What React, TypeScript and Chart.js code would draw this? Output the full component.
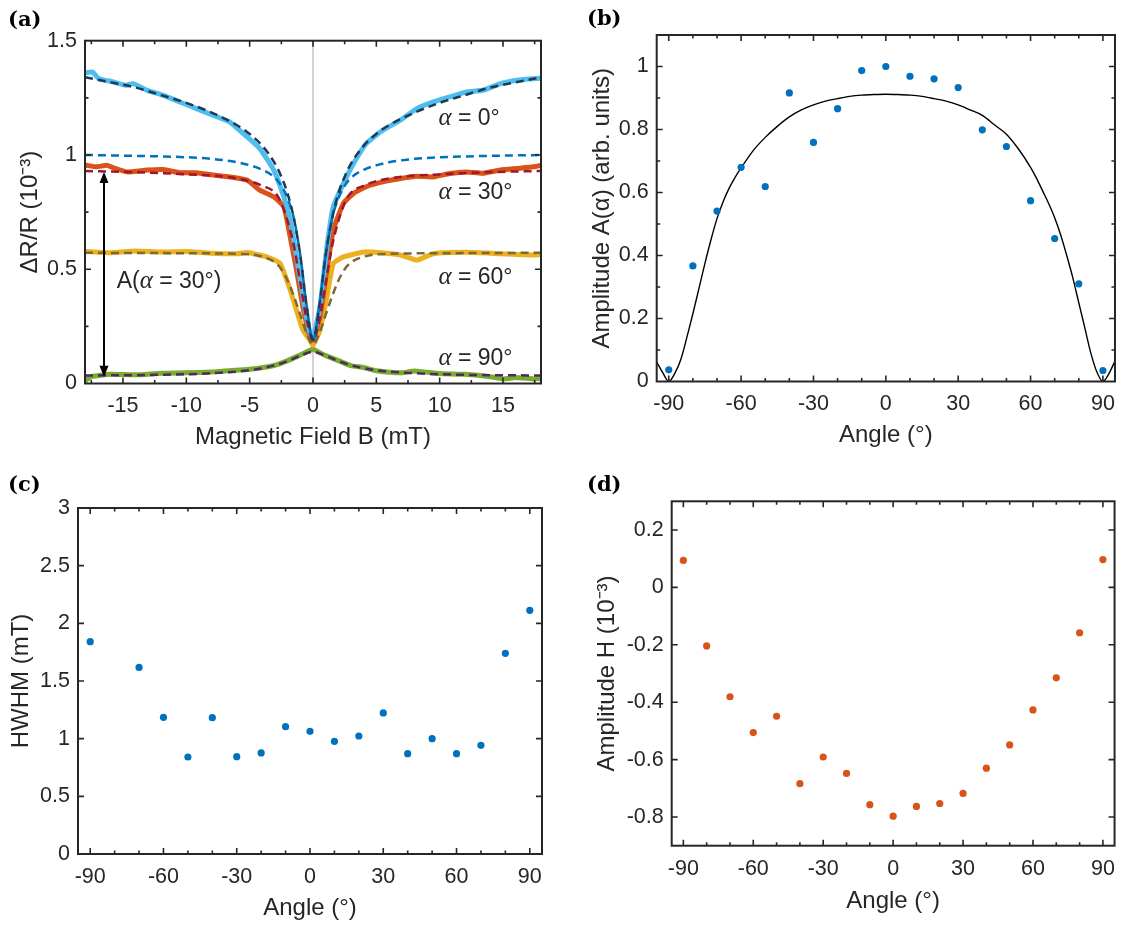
import React, { useEffect, useRef } from "react";
import { Chart, registerables } from "chart.js";

Chart.register(...registerables);

const SANS = "'Liberation Sans', Arial, Helvetica, sans-serif";
const INK = "#262626";

// ---------------- Panel (a): ΔR/R vs magnetic field ----------------
const fieldAlpha0 = [-17.9, -17.4, -16.9, -15.8, -14.8, -14.2, -13.1, -11.8, -10.5, -9.2, -7.9, -6.6, -5.2, -4.2, -3.1, -2.3, -1.8, -1.3, -0.8, -0.25, 0, 0.55, 1.1, 1.6, 2.4, 3.2, 4.2, 5.5, 6.9, 8.2, 9.5, 10.8, 12.1, 13.4, 14.8, 16.1, 17.4, 17.9];
const dRAlpha0 = [1.36, 1.363, 1.334, 1.32, 1.305, 1.312, 1.283, 1.261, 1.232, 1.203, 1.174, 1.145, 1.079, 1.028, 0.934, 0.817, 0.715, 0.554, 0.38, 0.219, 0.2, 0.336, 0.598, 0.773, 0.875, 0.963, 1.05, 1.108, 1.152, 1.203, 1.232, 1.254, 1.276, 1.283, 1.312, 1.327, 1.334, 1.336];

const fieldFit0 = [-18, -16, -14, -12, -10, -8, -6, -5, -4, -3, -2.5, -2, -1.5, -1, -0.5, 0, 0.5, 1, 1.5, 2, 2.5, 3, 4, 5, 6, 8, 10, 12, 14, 16, 18];
const fitAlpha0 = [1.34, 1.318, 1.295, 1.262, 1.228, 1.185, 1.13, 1.092, 1.04, 0.962, 0.905, 0.83, 0.72, 0.56, 0.34, 0.19, 0.34, 0.56, 0.72, 0.83, 0.905, 0.962, 1.04, 1.092, 1.13, 1.185, 1.228, 1.262, 1.295, 1.318, 1.34];

const fieldLorentz = [-18, -14, -10, -8, -6, -5, -4, -3, -2.5, -2, -1.5, -1, -0.5, 0, 0.5, 1, 1.5, 2, 2.5, 3, 4, 5, 6, 8, 10, 14, 18];
const lorentzAlpha0 = [1.0, 0.996, 0.99, 0.983, 0.968, 0.955, 0.935, 0.9, 0.865, 0.81, 0.72, 0.56, 0.34, 0.19, 0.34, 0.56, 0.72, 0.81, 0.865, 0.9, 0.935, 0.955, 0.968, 0.983, 0.99, 0.996, 1.0];

const fieldAlpha30 = [-17.9, -17.1, -16.3, -15.8, -14.7, -13.1, -11.8, -10.5, -9.2, -7.9, -6.6, -5.2, -4.2, -3.1, -2.3, -1.8, -1.3, -0.8, -0.25, 0, 0.55, 1.1, 1.6, 2.4, 3.2, 4.2, 5.5, 6.9, 8.2, 9.5, 10.8, 12.1, 13.4, 14.8, 16.1, 17.4, 18];
const dRAlpha30 = [0.955, 0.948, 0.955, 0.945, 0.926, 0.934, 0.936, 0.922, 0.922, 0.912, 0.904, 0.89, 0.846, 0.817, 0.773, 0.642, 0.496, 0.336, 0.205, 0.19, 0.292, 0.496, 0.671, 0.788, 0.832, 0.861, 0.882, 0.897, 0.907, 0.904, 0.919, 0.926, 0.92, 0.934, 0.941, 0.948, 0.955];

const fieldFit30 = [-18, -14, -10, -7, -5, -4, -3, -2.5, -2, -1.5, -1, -0.5, 0, 0.5, 1, 1.5, 2, 2.5, 3, 4, 5, 7, 10, 14, 18];
const fitAlpha30 = [0.93, 0.925, 0.915, 0.905, 0.885, 0.865, 0.835, 0.79, 0.71, 0.6, 0.44, 0.28, 0.19, 0.28, 0.44, 0.6, 0.71, 0.79, 0.835, 0.865, 0.885, 0.905, 0.915, 0.925, 0.93];

const fieldAlpha60 = [-17.9, -16, -14, -12, -10, -8, -6, -5.2, -3.65, -2.6, -1.8, -1.3, -0.8, -0.25, 0, 0.55, 1.1, 1.6, 2.4, 4.2, 6.9, 8.2, 9.5, 12.1, 14.8, 17.4, 18];
const dRAlpha60 = [0.578, 0.572, 0.58, 0.575, 0.578, 0.57, 0.568, 0.573, 0.554, 0.525, 0.409, 0.321, 0.234, 0.19, 0.168, 0.234, 0.38, 0.525, 0.554, 0.576, 0.562, 0.54, 0.568, 0.574, 0.568, 0.562, 0.565];

const fieldFit60 = [-18, -10, -5, -4, -3, -2.5, -2, -1.5, -1, -0.5, 0, 0.5, 1, 1.5, 2, 2.5, 3, 4, 5, 10, 18];
const fitAlpha60 = [0.572, 0.57, 0.565, 0.555, 0.53, 0.5, 0.45, 0.38, 0.3, 0.22, 0.17, 0.22, 0.3, 0.38, 0.45, 0.5, 0.53, 0.555, 0.565, 0.57, 0.572];

const fieldAlpha90 = [-17.9, -17.5, -16, -14, -12, -10, -8, -7, -5, -3, -2, -1, 0, 0.55, 1.1, 2, 3, 4, 5, 7, 8, 10, 12, 14, 15, 16, 17.5, 18];
const dRAlpha90 = [0.015, 0.03, 0.04, 0.038, 0.045, 0.047, 0.05, 0.055, 0.062, 0.08, 0.1, 0.125, 0.15, 0.134, 0.12, 0.1, 0.078, 0.07, 0.056, 0.047, 0.055, 0.044, 0.04, 0.03, 0.02, 0.026, 0.02, 0.022];

const fieldFit90 = [-18, -12, -8, -5, -3, -2, -1, 0, 1, 2, 3, 5, 8, 12, 18];
const fitAlpha90 = [0.035, 0.038, 0.045, 0.058, 0.08, 0.098, 0.122, 0.138, 0.122, 0.098, 0.08, 0.058, 0.045, 0.038, 0.035];

const curveLabels = ["0°", "30°", "60°", "90°"];
const curveLabelLevels = [1.16, 0.836, 0.464, 0.11];
const curveLabelField = 9.9;
const arrowField = -16.5;
const arrowTop = 0.925;
const arrowBottom = 0.03;
const amplitudeLabelField = -15.5;
const amplitudeLabelLevel = 0.445;

// ---------------- Panel (b): amplitude vs angle ----------------
const anglesB = [-90, -80, -70, -60, -50, -40, -30, -20, -10, 0, 10, 20, 30, 40, 50, 60, 70, 80, 90];
const amplitudeB = [0.037, 0.367, 0.541, 0.68, 0.619, 0.916, 0.759, 0.866, 0.987, 1.0, 0.969, 0.961, 0.933, 0.799, 0.746, 0.574, 0.454, 0.31, 0.035];
const anglesFitB = [-95, -92.5, -90, -87.5, -85, -82.5, -80, -77.5, -75, -72.5, -70, -67.5, -65, -62.5, -60, -55, -50, -45, -40, -35, -30, -25, -20, -15, -10, -5, 0, 5, 10, 15, 20, 25, 30, 35, 40, 45, 50, 55, 60, 62.5, 65, 67.5, 70, 72.5, 75, 77.5, 80, 82.5, 85, 87.5, 90, 92.5, 95];
const amplitudeFitB = [0.062, 0.028, 0.0, 0.026, 0.07, 0.14, 0.215, 0.295, 0.375, 0.45, 0.517, 0.57, 0.613, 0.648, 0.678, 0.733, 0.775, 0.81, 0.84, 0.862, 0.878, 0.89, 0.898, 0.905, 0.909, 0.911, 0.912, 0.911, 0.909, 0.905, 0.898, 0.89, 0.878, 0.862, 0.845, 0.815, 0.785, 0.738, 0.68, 0.645, 0.605, 0.565, 0.52, 0.465, 0.4, 0.33, 0.25, 0.17, 0.09, 0.03, 0.0, 0.025, 0.065];

// ---------------- Panel (c): HWHM vs angle ----------------
const anglesC = [-90, -70, -60, -50, -40, -30, -20, -10, 0, 10, 20, 30, 40, 50, 60, 70, 80, 90];
const hwhmC = [1.841, 1.618, 1.185, 0.841, 1.182, 0.844, 0.876, 1.104, 1.064, 0.977, 1.023, 1.223, 0.87, 1.0, 0.87, 0.942, 1.74, 2.113];

// ---------------- Panel (d): amplitude H vs angle ----------------
const anglesD = [-90, -80, -70, -60, -50, -40, -30, -20, -10, 0, 10, 20, 30, 40, 50, 60, 70, 80, 90];
const amplitudeH = [0.094, -0.204, -0.381, -0.506, -0.449, -0.684, -0.591, -0.648, -0.757, -0.797, -0.763, -0.753, -0.718, -0.63, -0.549, -0.427, -0.315, -0.158, 0.097];

const pts = (xs: number[], ys: number[]) => xs.map((x, i) => ({ x, y: ys[i] }));

const isMultiple = (v: number, step: number) => Math.abs(v / step - Math.round(v / step)) < 1e-6;
const fmt = (v: number) => String(parseFloat(Number(v).toFixed(3)));

function tickValues(min: number, max: number, step: number) {
  const out: { value: number }[] = [];
  const first = Math.ceil(min / step - 1e-9);
  const last = Math.floor(max / step + 1e-9);
  for (let k = first; k <= last; k++) out.push({ value: parseFloat((k * step).toFixed(6)) });
  return out;
}

function framePlugin(xMajor: number, yMajor: number) {
  return {
    id: "matlabFrame",
    afterDatasetsDraw(chart: any) {
      const { ctx, chartArea } = chart;
      const { left, right, top, bottom } = chartArea;
      const xs = chart.scales.x;
      const ys = chart.scales.y;
      ctx.save();
      ctx.strokeStyle = INK;
      ctx.lineWidth = 1.6;
      ctx.beginPath();
      for (const t of xs.ticks) {
        const p = xs.getPixelForValue(t.value);
        if (p <= left + 1 || p >= right - 1) continue;
        const len = isMultiple(t.value, xMajor) ? 6 : 3.5;
        ctx.moveTo(p, bottom);
        ctx.lineTo(p, bottom - len);
        ctx.moveTo(p, top);
        ctx.lineTo(p, top + len);
      }
      for (const t of ys.ticks) {
        const p = ys.getPixelForValue(t.value);
        if (p <= top + 1 || p >= bottom - 1) continue;
        const len = isMultiple(t.value, yMajor) ? 6 : 3.5;
        ctx.moveTo(left, p);
        ctx.lineTo(left + len, p);
        ctx.moveTo(right, p);
        ctx.lineTo(right - len, p);
      }
      ctx.stroke();
      ctx.lineWidth = 2;
      ctx.strokeRect(left, top, right - left, bottom - top);
      ctx.restore();
    },
  };
}

function drawMixed(ctx: CanvasRenderingContext2D, x: number, y: number, parts: [string, boolean][], size: number) {
  let cx = x;
  ctx.textBaseline = "middle";
  ctx.textAlign = "left";
  ctx.fillStyle = INK;
  for (const [txt, greek] of parts) {
    ctx.font = greek ? `italic ${size + 2}px 'Liberation Serif', 'DejaVu Serif', serif` : `${size}px ${SANS}`;
    ctx.fillText(txt, cx, y);
    cx += ctx.measureText(txt).width;
  }
}

const annotationPlugin = {
  id: "panelAAnnotations",
  afterDatasetsDraw(chart: any) {
    const { ctx } = chart;
    const xs = chart.scales.x;
    const ys = chart.scales.y;
    ctx.save();
    const ax = xs.getPixelForValue(arrowField);
    const yTop = ys.getPixelForValue(arrowTop);
    const yBot = ys.getPixelForValue(arrowBottom);
    const head = 11;
    const hw = 4.5;
    ctx.strokeStyle = "#000";
    ctx.fillStyle = "#000";
    ctx.lineWidth = 2;
    ctx.beginPath();
    ctx.moveTo(ax, yTop + head - 1);
    ctx.lineTo(ax, yBot - head + 1);
    ctx.stroke();
    ctx.beginPath();
    ctx.moveTo(ax, yTop);
    ctx.lineTo(ax - hw, yTop + head);
    ctx.lineTo(ax + hw, yTop + head);
    ctx.closePath();
    ctx.fill();
    ctx.beginPath();
    ctx.moveTo(ax, yBot);
    ctx.lineTo(ax - hw, yBot - head);
    ctx.lineTo(ax + hw, yBot - head);
    ctx.closePath();
    ctx.fill();

    drawMixed(
      ctx,
      xs.getPixelForValue(amplitudeLabelField),
      ys.getPixelForValue(amplitudeLabelLevel),
      [["A(", false], ["α", true], [" = 30°)", false]],
      23
    );
    curveLabels.forEach((lab, i) => {
      drawMixed(
        ctx,
        xs.getPixelForValue(curveLabelField),
        ys.getPixelForValue(curveLabelLevels[i]),
        [["α", true], [" = " + lab, false]],
        23
      );
    });
    ctx.restore();
  },
};

type AxisSpec = { min: number; max: number; step: number; major: number; title: string; titleCenter: number };
type PanelSpec = {
  box: { left: number; top: number; width: number; height: number };
  plot: { left: number; top: number; right: number; bottom: number };
  x: AxisSpec;
  y: AxisSpec;
  datasets: any[];
  plugins?: any[];
};

function makeAxis(ax: AxisSpec, horizontal: boolean, spec: PanelSpec) {
  const titleOffset = ax.titleCenter - 14.4;
  return {
    type: "linear",
    position: horizontal ? "bottom" : "left",
    min: ax.min,
    max: ax.max,
    grid: { display: false, drawTicks: false, tickLength: 0 },
    border: { display: false },
    ticks: {
      autoSkip: false,
      maxRotation: 0,
      minRotation: 0,
      padding: horizontal ? 10 : 8,
      color: INK,
      font: { family: SANS, size: 21.5 },
      callback: (v: number) => (isMultiple(v, ax.major) ? fmt(v) : ""),
    },
    afterBuildTicks: (s: any) => {
      s.ticks = tickValues(ax.min, ax.max, ax.step);
    },
    title: {
      display: true,
      text: ax.title,
      color: INK,
      font: { family: SANS, size: 24 },
      padding: horizontal ? { top: 0, bottom: titleOffset } : { top: titleOffset, bottom: 0 },
    },
    afterFit: (s: any) => {
      if (horizontal) s.height = spec.box.height - spec.plot.bottom;
      else s.width = spec.plot.left;
    },
  };
}

function Panel({ spec }: { spec: PanelSpec }) {
  const ref = useRef<HTMLCanvasElement | null>(null);
  useEffect(() => {
    if (!ref.current) return;
    const chart = new Chart(ref.current, {
      type: "scatter",
      data: { datasets: spec.datasets },
      options: {
        animation: false,
        responsive: false,
        events: [],
        layout: {
          autoPadding: false,
          padding: { left: 0, top: spec.plot.top, right: spec.box.width - spec.plot.right, bottom: 0 },
        },
        plugins: { legend: { display: false }, tooltip: { enabled: false } },
        scales: {
          x: makeAxis(spec.x, true, spec),
          y: makeAxis(spec.y, false, spec),
        },
      } as any,
      plugins: [framePlugin(spec.x.major, spec.y.major), ...(spec.plugins || [])],
    });
    return () => chart.destroy();
  }, []);
  const { left, top, width, height } = spec.box;
  return (
    <canvas
      ref={ref}
      width={width}
      height={height}
      style={{ position: "absolute", left, top, width, height }}
    />
  );
}

const dataLine = (data: any[], color: string) => ({
  data,
  showLine: true,
  borderColor: color,
  borderWidth: 5,
  pointRadius: 0,
  tension: 0.15,
  borderCapStyle: "round",
  borderJoinStyle: "round",
  order: 2,
});
const fitLine = (data: any[], color: string) => ({
  data,
  showLine: true,
  borderColor: color,
  borderWidth: 2.5,
  borderDash: [8, 5],
  pointRadius: 0,
  cubicInterpolationMode: "monotone",
  order: 1,
});

const panelA: PanelSpec = {
  box: { left: 0, top: 0, width: 560, height: 465 },
  plot: { left: 85, top: 40.7, right: 541, bottom: 383.5 },
  x: { min: -18, max: 18, step: 2.5, major: 5, title: "Magnetic Field B (mT)", titleCenter: 28 },
  y: { min: 0, max: 1.5, step: 0.25, major: 0.5, title: "ΔR/R (10⁻³)", titleCenter: 30 },
  datasets: [
    fitLine(pts(fieldFit0, fitAlpha0), "#1E3A56"),
    fitLine(pts(fieldLorentz, lorentzAlpha0), "#0072BD"),
    fitLine(pts(fieldFit30, fitAlpha30), "#A2142F"),
    fitLine(pts(fieldFit60, fitAlpha60), "#7A6A33"),
    fitLine(pts(fieldFit90, fitAlpha90), "#4E2A5E"),
    dataLine(pts(fieldAlpha0, dRAlpha0), "#4DBEEE"),
    dataLine(pts(fieldAlpha30, dRAlpha30), "#D95319"),
    dataLine(pts(fieldAlpha60, dRAlpha60), "#EDB120"),
    dataLine(pts(fieldAlpha90, dRAlpha90), "#77AC30"),
    {
      data: [{ x: 0, y: 0 }, { x: 0, y: 1.5 }],
      showLine: true,
      borderColor: "#A6A6A6",
      borderWidth: 1,
      pointRadius: 0,
      order: 3,
    },
  ],
  plugins: [annotationPlugin],
};

const dots = (data: any[], color: string) => ({
  data,
  pointRadius: 3.6,
  pointBackgroundColor: color,
  pointBorderWidth: 0,
  showLine: false,
  order: 1,
});

const panelB: PanelSpec = {
  box: { left: 560, top: 0, width: 565, height: 465 },
  plot: { left: 96.7, top: 35, right: 560, bottom: 381.5 },
  x: { min: -95, max: 95, step: 10, major: 30, title: "Angle (°)", titleCenter: 30 },
  y: { min: 0, max: 1.1, step: 0.1, major: 0.2, title: "Amplitude A(α) (arb. units)", titleCenter: 42 },
  datasets: [
    dots(pts(anglesB, amplitudeB), "#0072BD"),
    {
      data: pts(anglesFitB, amplitudeFitB),
      showLine: true,
      borderColor: "#000",
      borderWidth: 1.4,
      pointRadius: 0,
      cubicInterpolationMode: "monotone",
      order: 2,
    },
  ],
};

const panelC: PanelSpec = {
  box: { left: 0, top: 465, width: 560, height: 465 },
  plot: { left: 78, top: 43, right: 542, bottom: 389 },
  x: { min: -95, max: 95, step: 10, major: 30, title: "Angle (°)", titleCenter: 22 },
  y: { min: 0, max: 3, step: 0.5, major: 0.5, title: "HWHM (mT)", titleCenter: 21 },
  datasets: [dots(pts(anglesC, hwhmC), "#0072BD")],
};

const panelD: PanelSpec = {
  box: { left: 560, top: 465, width: 565, height: 465 },
  plot: { left: 111.7, top: 36.3, right: 560, bottom: 380.7 },
  x: { min: -95, max: 95, step: 10, major: 30, title: "Angle (°)", titleCenter: 28.3 },
  y: { min: -0.9, max: 0.3, step: 0.2, major: 0.2, title: "Amplitude H (10⁻³)", titleCenter: 47 },
  datasets: [dots(pts(anglesD, amplitudeH), "#D95319")],
};

const panelLetter = (text: string, left: number, top: number) => (
  <div
    style={{
      position: "absolute",
      left,
      top,
      font: "bold 21px 'DejaVu Serif', 'Liberation Serif', serif",
      lineHeight: "22px",
      color: "#000",
    }}
  >
    {text}
  </div>
);

export default function App() {
  return (
    <div style={{ position: "absolute", left: 0, top: 0, width: 1125, height: 930, background: "#fff", overflow: "hidden" }}>
      <Panel spec={panelA} />
      <Panel spec={panelB} />
      <Panel spec={panelC} />
      <Panel spec={panelD} />
      {panelLetter("(a)", 8, 8)}
      {panelLetter("(b)", 587, 7)}
      {panelLetter("(c)", 8, 473)}
      {panelLetter("(d)", 587, 473)}
    </div>
  );
}
